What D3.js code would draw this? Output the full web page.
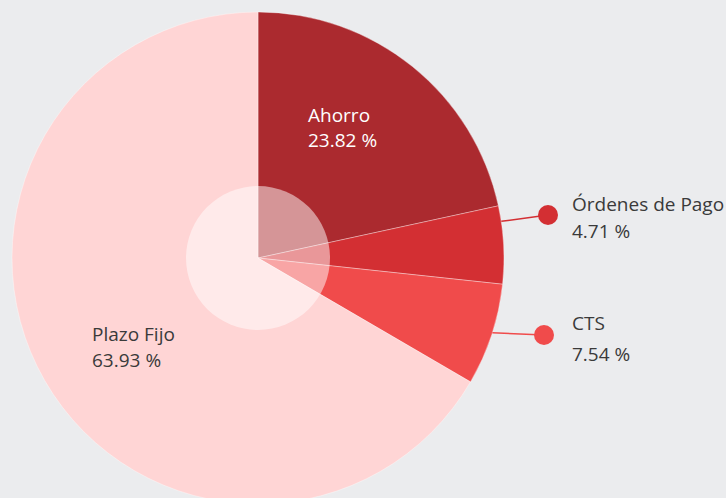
<!DOCTYPE html>
<html>
<head>
<meta charset="utf-8">
<script src="https://cdn.jsdelivr.net/npm/d3@7"></script>
<style>
  html, body { margin: 0; padding: 0; background: #ebecee; }
  svg { display: block; font-family: "Open Sans", "Noto Sans", sans-serif; }
</style>
</head>
<body>
<div id="chart"></div>
<script>
const categories = ["Ahorro", "Órdenes de Pago", "CTS", "Plazo Fijo"];
const shares = [21.6, 5.1, 6.7, 66.6];
// percentages as printed on the chart
const pctLabels = ["23.82 %", "4.71 %", "7.54 %", "63.93 %"];
const colors = ["#ab2a2f", "#d32f33", "#f04b4b", "#ffd5d5"];

const width = 726, height = 498;
const cx = 258, cy = 258, radius = 246, holeR = 72;

const svg = d3.select("#chart").append("svg")
    .attr("width", width).attr("height", height);

const g = svg.append("g").attr("transform", `translate(${cx},${cy})`);

const data = categories.map((c, i) => ({ name: c, value: shares[i], pct: pctLabels[i], color: colors[i] }));

const pie = d3.pie().value(d => d.value).sort(null);
const arc = d3.arc().innerRadius(0).outerRadius(radius);
const arcs = pie(data);

g.selectAll("path.slice")
    .data(arcs)
    .join("path")
    .classed("slice", true)
    .attr("d", arc)
    .attr("fill", d => d.data.color)
    .attr("stroke", "rgba(255,255,255,0.35)")
    .attr("stroke-width", 1);

// translucent centre disc
g.append("circle")
    .attr("r", holeR)
    .attr("fill", "#fff")
    .attr("fill-opacity", 0.5);

// label layout: inside labels or callouts with a dot
const layout = [
    { x: 308, y: 122, dy: 25, fill: "#fff" },
    { x: 572, y: 211, dy: 27, fill: "#3a3a3a", dot: [548, 215], at: 0.2 },
    { x: 572, y: 330, dy: 31, fill: "#3a3a3a", dot: [544, 335], at: 0.48 },
    { x: 92, y: 341, dy: 26, fill: "#3a3a3a" }
];

arcs.forEach((a, i) => {
    const L = layout[i];
    if (L.dot) {
        const ang = a.startAngle + (a.endAngle - a.startAngle) * L.at;
        const sx = cx + radius * Math.sin(ang), sy = cy - radius * Math.cos(ang);
        svg.append("line")
            .attr("x1", sx).attr("y1", sy)
            .attr("x2", L.dot[0]).attr("y2", L.dot[1])
            .attr("stroke", a.data.color).attr("stroke-width", 1.5);
        svg.append("circle")
            .attr("cx", L.dot[0]).attr("cy", L.dot[1]).attr("r", 10)
            .attr("fill", a.data.color);
    }
    const t = svg.append("text")
        .attr("x", L.x).attr("y", L.y)
        .attr("fill", L.fill)
        .style("font-size", "19px");
    t.append("tspan").attr("x", L.x).text(a.data.name);
    t.append("tspan").attr("x", L.x).attr("dy", L.dy).text(a.data.pct);
});
</script>
</body>
</html>
